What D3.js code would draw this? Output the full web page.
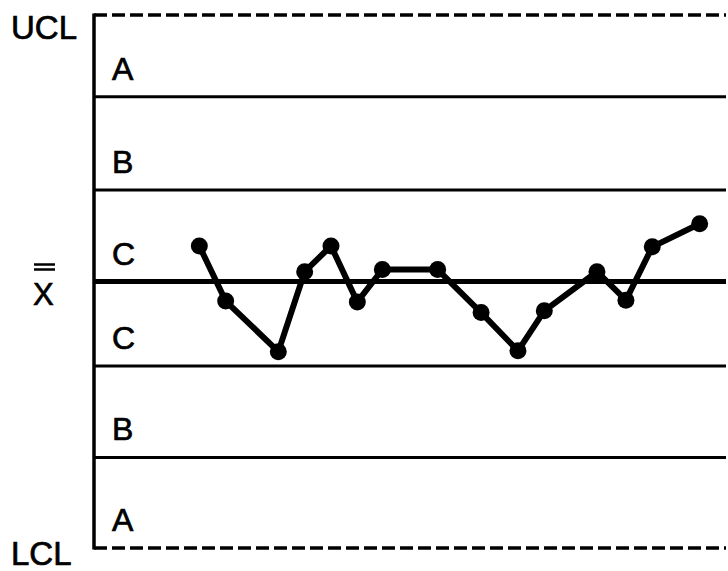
<!DOCTYPE html>
<html lang="en">
<head>
  <meta charset="utf-8">
  <title>Control chart zones</title>
  <script src="https://cdn.jsdelivr.net/npm/d3@7"></script>
  <style>
    body { margin: 0; background: #fff; }
    text { font-family: "Liberation Sans", Arial, sans-serif; fill: #000; stroke: #000; stroke-width: 0.7; }
  </style>
</head>
<body>
  <svg id="chart" width="728" height="571"></svg>
  <script>
  // zone boundaries, in sigma units
  const limitValues = [3, -3];                     // UCL, LCL
  const limitLabels = ["UCL", "LCL"];
  const zoneLines   = [2.08, 1.03, -0.95, -1.98];
  const centerValue = 0;
  const zoneLabels  = ["A", "B", "C", "C", "B", "A"];
  const zoneBottoms = [2.08, 1.03, 0, -0.95, -1.98, -3];

  // plotted subgroup means (sample position, sigma)
  const sampleX = [4, 5, 7, 8, 9, 10, 10.95, 13.05, 14.7, 16.1, 17.1, 19.1, 20.2, 21.2, 23];
  const sampleY = [0.40, -0.22, -0.79, 0.11, 0.40, -0.23, 0.135, 0.135, -0.35, -0.78, -0.33, 0.11, -0.21, 0.39, 0.65];

  const svg = d3.select("#chart");
  const plotLeft = 94, plotRight = 726, plotTop = 15, plotBottom = 548;

  const x = d3.scaleLinear().domain([0, 24]).range([plotLeft, plotRight]);
  const y = d3.scaleLinear().domain([-3, 3]).range([plotBottom, plotTop]);

  // zone lines
  svg.selectAll("line.zone")
    .data(zoneLines)
    .enter().append("line")
      .attr("class", "zone")
      .attr("x1", plotLeft).attr("x2", plotRight)
      .attr("y1", d => y(d)).attr("y2", d => y(d))
      .attr("stroke", "#000")
      .attr("stroke-width", 3);

  // center line
  svg.append("line")
    .attr("x1", plotLeft).attr("x2", plotRight)
    .attr("y1", y(centerValue)).attr("y2", y(centerValue))
    .attr("stroke", "#000")
    .attr("stroke-width", 5);

  // control limits (dashed)
  svg.selectAll("line.limit")
    .data(limitValues)
    .enter().append("line")
      .attr("class", "limit")
      .attr("x1", plotLeft).attr("x2", plotRight)
      .attr("y1", d => y(d)).attr("y2", d => y(d))
      .attr("stroke", "#000")
      .attr("stroke-width", 3.5)
      .attr("stroke-dasharray", "13,5");

  // vertical axis
  svg.append("line")
    .attr("x1", plotLeft).attr("x2", plotLeft)
    .attr("y1", y(3) - 1.5).attr("y2", y(-3) + 1.5)
    .attr("stroke", "#000")
    .attr("stroke-width", 3.5);

  // limit labels
  svg.selectAll("text.limit")
    .data(limitValues)
    .enter().append("text")
      .attr("class", "limit")
      .attr("x", 11)
      .attr("y", (d, i) => i === 0 ? y(d) + 24 : y(d) + 17)
      .attr("font-size", 33)
      .text((d, i) => limitLabels[i]);

  // X double bar
  const xbar = svg.append("g").attr("transform", `translate(33, ${y(centerValue)})`);
  xbar.append("text")
    .attr("x", 0).attr("y", 23)
    .attr("font-size", 31)
    .text("X");
  [-17, -12].forEach(off =>
    xbar.append("line")
      .attr("x1", 1).attr("x2", 22)
      .attr("y1", off).attr("y2", off)
      .attr("stroke", "#000")
      .attr("stroke-width", 2.5)
  );

  // zone letters
  svg.selectAll("text.zone")
    .data(zoneLabels)
    .enter().append("text")
      .attr("class", "zone")
      .attr("x", 112)
      .attr("y", (d, i) => y(zoneBottoms[i]) - 17)
      .attr("font-size", 32)
      .text(d => d);

  // data line
  const pts = sampleX.map((d, i) => [d, sampleY[i]]);
  svg.append("path")
    .datum(pts)
    .attr("fill", "none")
    .attr("stroke", "#000")
    .attr("stroke-width", 6)
    .attr("stroke-linejoin", "round")
    .attr("d", d3.line().x(d => x(d[0])).y(d => y(d[1])));

  svg.selectAll("circle")
    .data(pts)
    .enter().append("circle")
      .attr("cx", d => x(d[0]))
      .attr("cy", d => y(d[1]))
      .attr("r", 8.5)
      .attr("fill", "#000");
  </script>
</body>
</html>
